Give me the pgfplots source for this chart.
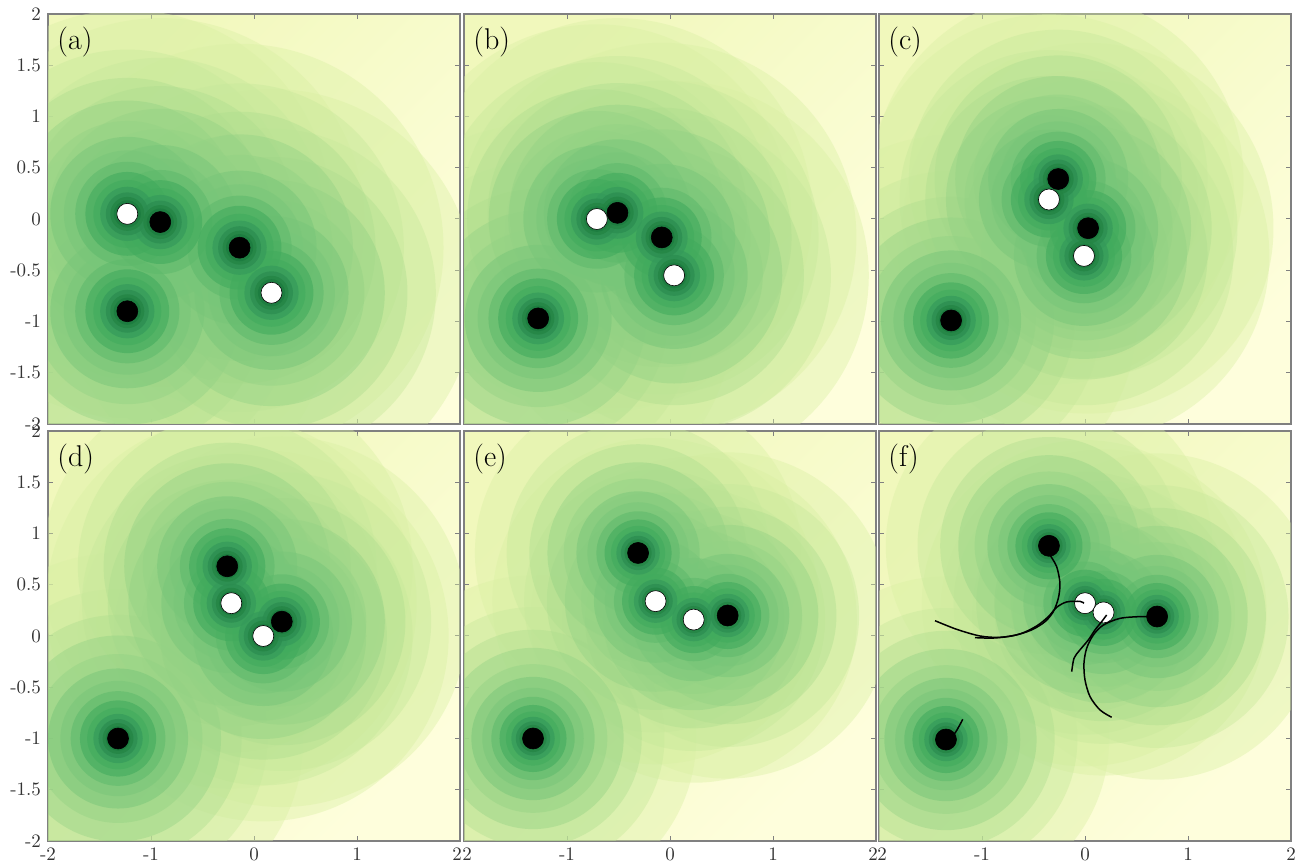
\documentclass[border=0pt]{standalone}
\usepackage{pgfplots}
\pgfplotsset{compat=1.18}
\usepackage{pgfplotstable}

\definecolor{bgA}{HTML}{F1F8BC}
\definecolor{bgB}{HTML}{FEFEDC}
\definecolor{c1}{HTML}{D9F0A3}
\definecolor{c2}{HTML}{C6E89A}
\definecolor{c3}{HTML}{ADDD8E}
\definecolor{c4}{HTML}{93D284}
\definecolor{c5}{HTML}{78C679}
\definecolor{c6}{HTML}{5DB96B}
\definecolor{c7}{HTML}{41AB5D}
\definecolor{c8}{HTML}{34995A}
\definecolor{c9}{HTML}{2B8C50}
\definecolor{c10}{HTML}{238443}
\definecolor{c11}{HTML}{1A7A3E}
\definecolor{axgray}{HTML}{808080}

% ---------- particle positions ----------
\pgfplotstableread{
x y
-0.91 -0.03
-0.14 -0.28
-1.23 -0.90
}\blkA
\pgfplotstableread{
x y
-1.23 0.05
0.17 -0.72
}\whtA
\pgfplotstableread{
x y
-1.23 0.05
0.17 -0.72
-0.91 -0.03
-0.14 -0.28
-1.23 -0.90
}\allA
\pgfplotstableread{
x y
-0.51 0.06
-0.08 -0.18
-1.28 -0.97
}\blkB
\pgfplotstableread{
x y
-0.71 0.00
0.04 -0.55
}\whtB
\pgfplotstableread{
x y
-0.71 0.00
0.04 -0.55
-0.51 0.06
-0.08 -0.18
-1.28 -0.97
}\allB
\pgfplotstableread{
x y
-0.26 0.39
0.03 -0.09
-1.30 -0.99
}\blkC
\pgfplotstableread{
x y
-0.35 0.19
-0.01 -0.36
}\whtC
\pgfplotstableread{
x y
-0.35 0.19
-0.01 -0.36
-0.26 0.39
0.03 -0.09
-1.30 -0.99
}\allC
\pgfplotstableread{
x y
-0.26 0.68
0.27 0.14
-1.32 -1.00
}\blkD
\pgfplotstableread{
x y
-0.22 0.32
0.09 0.00
}\whtD
\pgfplotstableread{
x y
-0.22 0.32
0.09 0.00
-0.26 0.68
0.27 0.14
-1.32 -1.00
}\allD
\pgfplotstableread{
x y
-0.31 0.81
0.56 0.20
-1.33 -1.00
}\blkE
\pgfplotstableread{
x y
-0.14 0.34
0.23 0.16
}\whtE
\pgfplotstableread{
x y
-0.14 0.34
0.23 0.16
-0.31 0.81
0.56 0.20
-1.33 -1.00
}\allE
\pgfplotstableread{
x y
-0.35 0.88
0.70 0.19
-1.35 -1.01
}\blkF
\pgfplotstableread{
x y
0.00 0.32
0.18 0.23
}\whtF
\pgfplotstableread{
x y
0.00 0.32
0.18 0.23
-0.35 0.88
0.70 0.19
-1.35 -1.01
}\allF

% ---------- trajectories (panel f) ----------
\pgfplotstableread{
x y
-0.34 0.79
-0.275 0.676
-0.243 0.514
-0.259 0.368
-0.308 0.237
-0.388 0.140
-0.518 0.059
-0.696 0.003
-0.890 -0.020
-1.068 -0.016
}\trA
\pgfplotstableread{
x y
-1.456 0.149
-1.246 0.065
-1.019 0.000
-0.825 -0.013
-0.631 0.020
-0.469 0.098
-0.356 0.189
-0.275 0.280
-0.178 0.332
-0.049 0.338
-0.01 0.319
}\trB
\pgfplotstableread{
x y
0.696 0.189
0.534 0.189
0.340 0.172
0.178 0.107
0.081 0.010
0.016 -0.120
-0.010 -0.267
0.000 -0.429
0.049 -0.592
0.146 -0.722
0.259 -0.793
}\trC
\pgfplotstableread{
x y
0.210 0.205
0.162 0.140
0.097 0.059
0.032 -0.039
-0.055 -0.143
-0.107 -0.218
-0.129 -0.348
}\trD
\pgfplotstableread{
x y
-1.34 -1.01
-1.262 -0.946
-1.187 -0.813
}\trE

\newcommand{\glowlayer}[4]{%
  \addplot+[only marks, mark=*, mark size={#2*\gs*51.5pt},
    mark options={solid, fill=#3, fill opacity=#4, draw opacity=0, line width=0pt}] table {#1};}
\newcommand{\glow}[1]{%
  \glowlayer{#1}{1.80}{c1}{0.40}
  \glowlayer{#1}{1.45}{c2}{0.40}
  \glowlayer{#1}{1.20}{c3}{0.40}
  \glowlayer{#1}{1.00}{c4}{0.42}
  \glowlayer{#1}{0.82}{c4}{0.45}
  \glowlayer{#1}{0.68}{c5}{0.50}
  \glowlayer{#1}{0.56}{c5}{0.52}
  \glowlayer{#1}{0.46}{c6}{0.55}
  \glowlayer{#1}{0.37}{c7}{0.58}
  \glowlayer{#1}{0.30}{c7}{0.60}
  \glowlayer{#1}{0.24}{c8}{0.65}
  \glowlayer{#1}{0.19}{c9}{0.70}
  \glowlayer{#1}{0.15}{c10}{0.75}
  \glowlayer{#1}{0.12}{c11}{0.70}}
\newcommand{\particles}[2]{%
  \addplot[only marks, mark=*, mark size=5.25pt, mark options={solid, draw=black, fill=black, line width=0.3pt}] table {#1};
  \addplot[only marks, mark=*, mark size=5.25pt, mark options={solid, draw=black, fill=white, line width=0.3pt}] table {#2};}

\pgfplotsset{
  cycle list={{black}},
  panel/.style={
    scale only axis, width=206pt, height=205pt,
    anchor=north west,
    xmin=-2, xmax=2, ymin=-2, ymax=2,
    xtick={-2,-1,0,1,2},
    ytick={-2,-1.5,-1,-0.5,0,0.5,1,1.5,2},
    xticklabels={}, yticklabels={},
    tick align=inside, major tick length=2.6pt,
    tick style={axgray, line width=0.5pt},
    axis line style={axgray, line width=0.7pt},
    ticklabel style={font=\fontsize{9.5}{11}\selectfont, text=black!80},
    axis background/.style={left color=bgA, right color=bgB, shading angle=45},
    clip marker paths=true,
  },
  ylab/.style={yticklabels={{-2},{-1.5},{-1},{-0.5},0,0.5,1,1.5,2}},
}
\newcommand{\plabel}[1]{\node[anchor=north west, inner sep=0pt, font=\fontsize{15}{17}\selectfont] at ([xshift=4.5pt,yshift=-6.5pt]rel axis cs:0,1) {#1};}

\begin{document}
\begin{tikzpicture}[x=1pt,y=1pt]
\useasboundingbox (0,0) rectangle (649,433.5);

\def\gs{1.1}
\begin{axis}[panel, ylab, at={(24pt,426.5pt)}]
\glow{\allA}
\particles{\blkA}{\whtA}
\plabel{(a)}
\end{axis}

\def\gs{1.05}
\begin{axis}[panel, at={(232pt,426.5pt)}]
\glow{\allB}
\particles{\blkB}{\whtB}
\plabel{(b)}
\end{axis}

\def\gs{1.0}
\begin{axis}[panel, at={(439.5pt,426.5pt)}]
\glow{\allC}
\particles{\blkC}{\whtC}
\plabel{(c)}
\end{axis}

\def\gs{1.0}
\begin{axis}[panel, ylab, at={(24pt,218pt)},
  xticklabels={{-2},{-1},0,1,{2\kern3pt}}]
\glow{\allD}
\particles{\blkD}{\whtD}
\plabel{(d)}
\end{axis}

\def\gs{0.88}
\begin{axis}[panel, at={(232pt,218pt)},
  xticklabels={{\kern3pt 2},{-1},0,1,{2\kern3pt}}]
\glow{\allE}
\particles{\blkE}{\whtE}
\plabel{(e)}
\end{axis}

\def\gs{0.88}
\begin{axis}[panel, at={(439.5pt,218pt)},
  xticklabels={{\kern3pt 2},{-1},0,1,2}]
\glow{\allF}
\particles{\blkF}{\whtF}
\addplot[black, solid, line width=0.75pt, smooth, no marks] table {\trA};
\addplot[black, solid, line width=0.75pt, smooth, no marks] table {\trB};
\addplot[black, solid, line width=0.75pt, smooth, no marks] table {\trC};
\addplot[black, solid, line width=0.75pt, smooth, no marks] table {\trD};
\addplot[black, solid, line width=0.75pt, smooth, no marks] table {\trE};
\plabel{(f)}
\end{axis}
\end{tikzpicture}
\end{document}
